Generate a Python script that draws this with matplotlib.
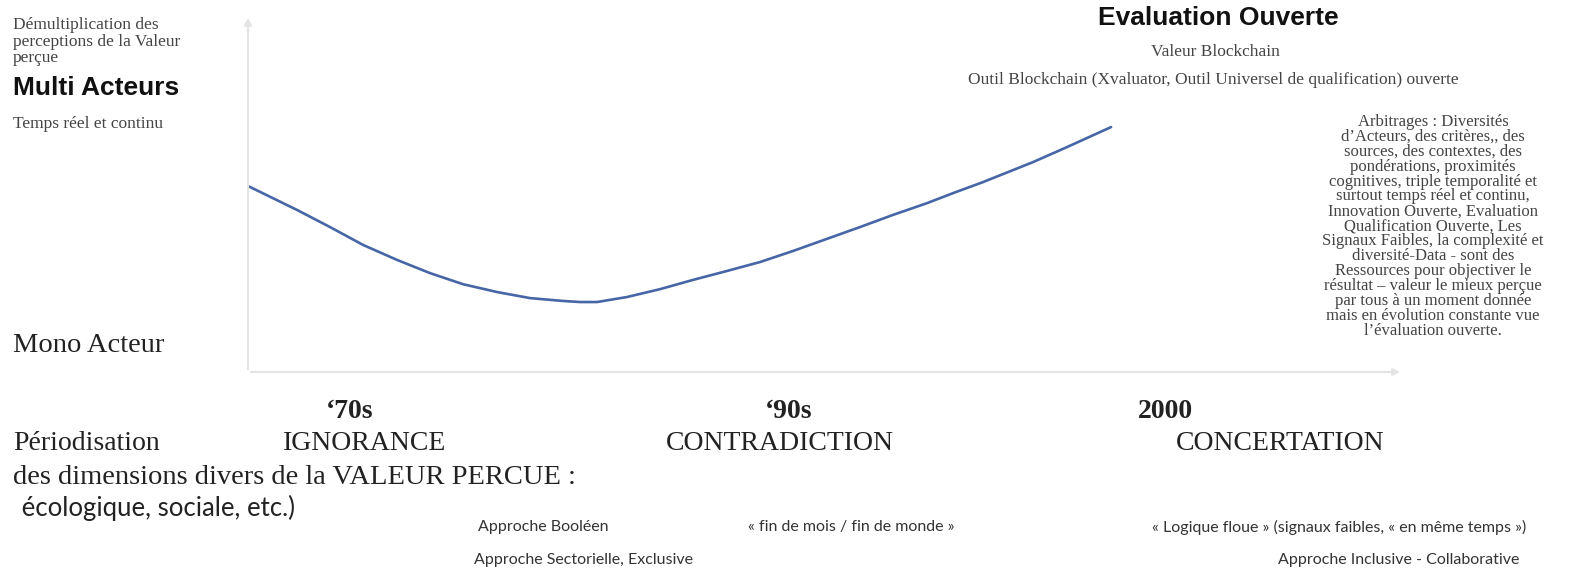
import numpy as np
import matplotlib.pyplot as plt

# courbe de la valeur perçue (x : temps, y : nombre d'acteurs), en % des axes
curve_x = np.array([0, 4.24, 7.10, 9.96, 12.90, 15.76, 18.61, 21.56, 24.42, 27.27, 28.74,
                    30.22, 32.81, 35.67, 38.53, 41.47, 44.33, 47.19, 50.13, 52.99, 55.84,
                    58.79, 61.04, 63.64, 67.97, 70.91, 74.72])
curve_y = np.array([52.1, 45.4, 40.6, 35.6, 31.4, 27.7, 24.6, 22.4, 20.7, 19.9, 19.6,
                    19.6, 21.0, 23.2, 25.8, 28.3, 30.8, 33.9, 37.3, 40.6, 44.0,
                    47.3, 50.1, 53.2, 58.8, 63.0, 68.6])

decades = ["\u201870s", "\u201890s", "2000"]
periods = ["IGNORANCE", "CONTRADICTION", "CONCERTATION"]

notes_left = ["Démultiplication des", "perceptions de la Valeur", "perçue"]
arbitrages = [
    "Arbitrages : Diversités",
    "d\u2019Acteurs, des critères,, des",
    "sources, des contextes, des",
    "pondérations, proximités",
    "cognitives, triple temporalité et",
    "surtout temps réel et continu,",
    "Innovation Ouverte, Evaluation",
    "Qualification Ouverte, Les",
    "Signaux Faibles, la complexité et",
    "diversité-Data - sont des",
    "Ressources pour objectiver le",
    "résultat \u2013 valeur le mieux perçue",
    "par tous à un moment donnée",
    "mais en évolution constante vue",
    "l\u2019évaluation ouverte.",
]
approches = [
    ("Approche Booléen", 478, 527),
    ("« fin de mois / fin de monde »", 748, 527),
    ("« Logique floue » (signaux faibles, « en même temps »)", 1152, 527),
    ("Approche Sectorielle, Exclusive", 474, 560),
    ("Approche Inclusive - Collaborative", 1278, 560),
]

W, H = 1571, 568
fig = plt.figure(figsize=(W / 100, H / 100), dpi=100)

SERIF = "Liberation Serif"
SANS = "Liberation Sans"
CAL = "Lato"


def txt(x, y, s, **kw):
    # position en pixels de l'image
    kw.setdefault("va", "center")
    kw.setdefault("ha", "left")
    fig.text(x / W, 1 - y / H, s, **kw)


ax = fig.add_axes([248 / W, (H - 372) / H, (1403 - 248) / W, (372 - 15) / H])
ax.set_xlim(0, 100)
ax.set_ylim(0, 100)
ax.axis("off")

axis_col = "#e4e4e4"
ax.annotate("", xy=(0, 1), xytext=(0, 0), xycoords="axes fraction",
            arrowprops=dict(arrowstyle="-|>", color=axis_col, lw=1.6, mutation_scale=10))
ax.annotate("", xy=(1, 0), xytext=(0, 0), xycoords="axes fraction",
            arrowprops=dict(arrowstyle="-|>", color=axis_col, lw=1.6, mutation_scale=10))

ax.plot(curve_x, curve_y, color="#4666a6", lw=1.9, solid_capstyle="round",
        solid_joinstyle="round")

# colonne de gauche
for i, s in enumerate(notes_left):
    txt(13, 25 + i * 16.5, s, family=SERIF, fontsize=12.5, color="#444444")
txt(13, 88, "Multi Acteurs", family=SANS, fontsize=19, fontweight="bold", color="#111111")
txt(13, 124, "Temps réel et continu", family=SERIF, fontsize=12.5, color="#444444")
txt(13, 345, "Mono Acteur", family=SERIF, fontsize=20.5, color="#222222")

# haut droite
txt(1218, 18, "Evaluation Ouverte", family=SANS, fontsize=19, fontweight="bold",
    color="#111111", ha="center")
txt(1215, 52, "Valeur Blockchain", family=SERIF, fontsize=12.5, color="#444444", ha="center")
txt(1213, 80, "Outil Blockchain (Xvaluator, Outil Universel de qualification) ouverte",
    family=SERIF, fontsize=12.5, color="#444444", ha="center")

for i, s in enumerate(arbitrages):
    txt(1433, 122 + i * 14.9, s, family=SERIF, fontsize=12, color="#444444", ha="center")

# périodisation
for s, x in zip(decades, [326, 765, 1138]):
    txt(x, 412, s, family=SERIF, fontsize=20, fontweight="bold", color="#222222")
txt(13, 444, "Périodisation", family=SERIF, fontsize=20, color="#222222")
for s, x in zip(periods, [283, 666, 1176]):
    txt(x, 444, s, family=SERIF, fontsize=20, color="#222222")
txt(13, 478, "des dimensions divers de la VALEUR PERCUE :", family=SERIF, fontsize=20.5,
    color="#222222")
txt(15, 508, " écologique, sociale, etc.)", family=CAL, fontsize=18.5, color="#222222")

for s, x, y in approches:
    txt(x, y, s, family=CAL, fontsize=11.5, color="#333333")

fig.savefig("out.png", dpi=100)
